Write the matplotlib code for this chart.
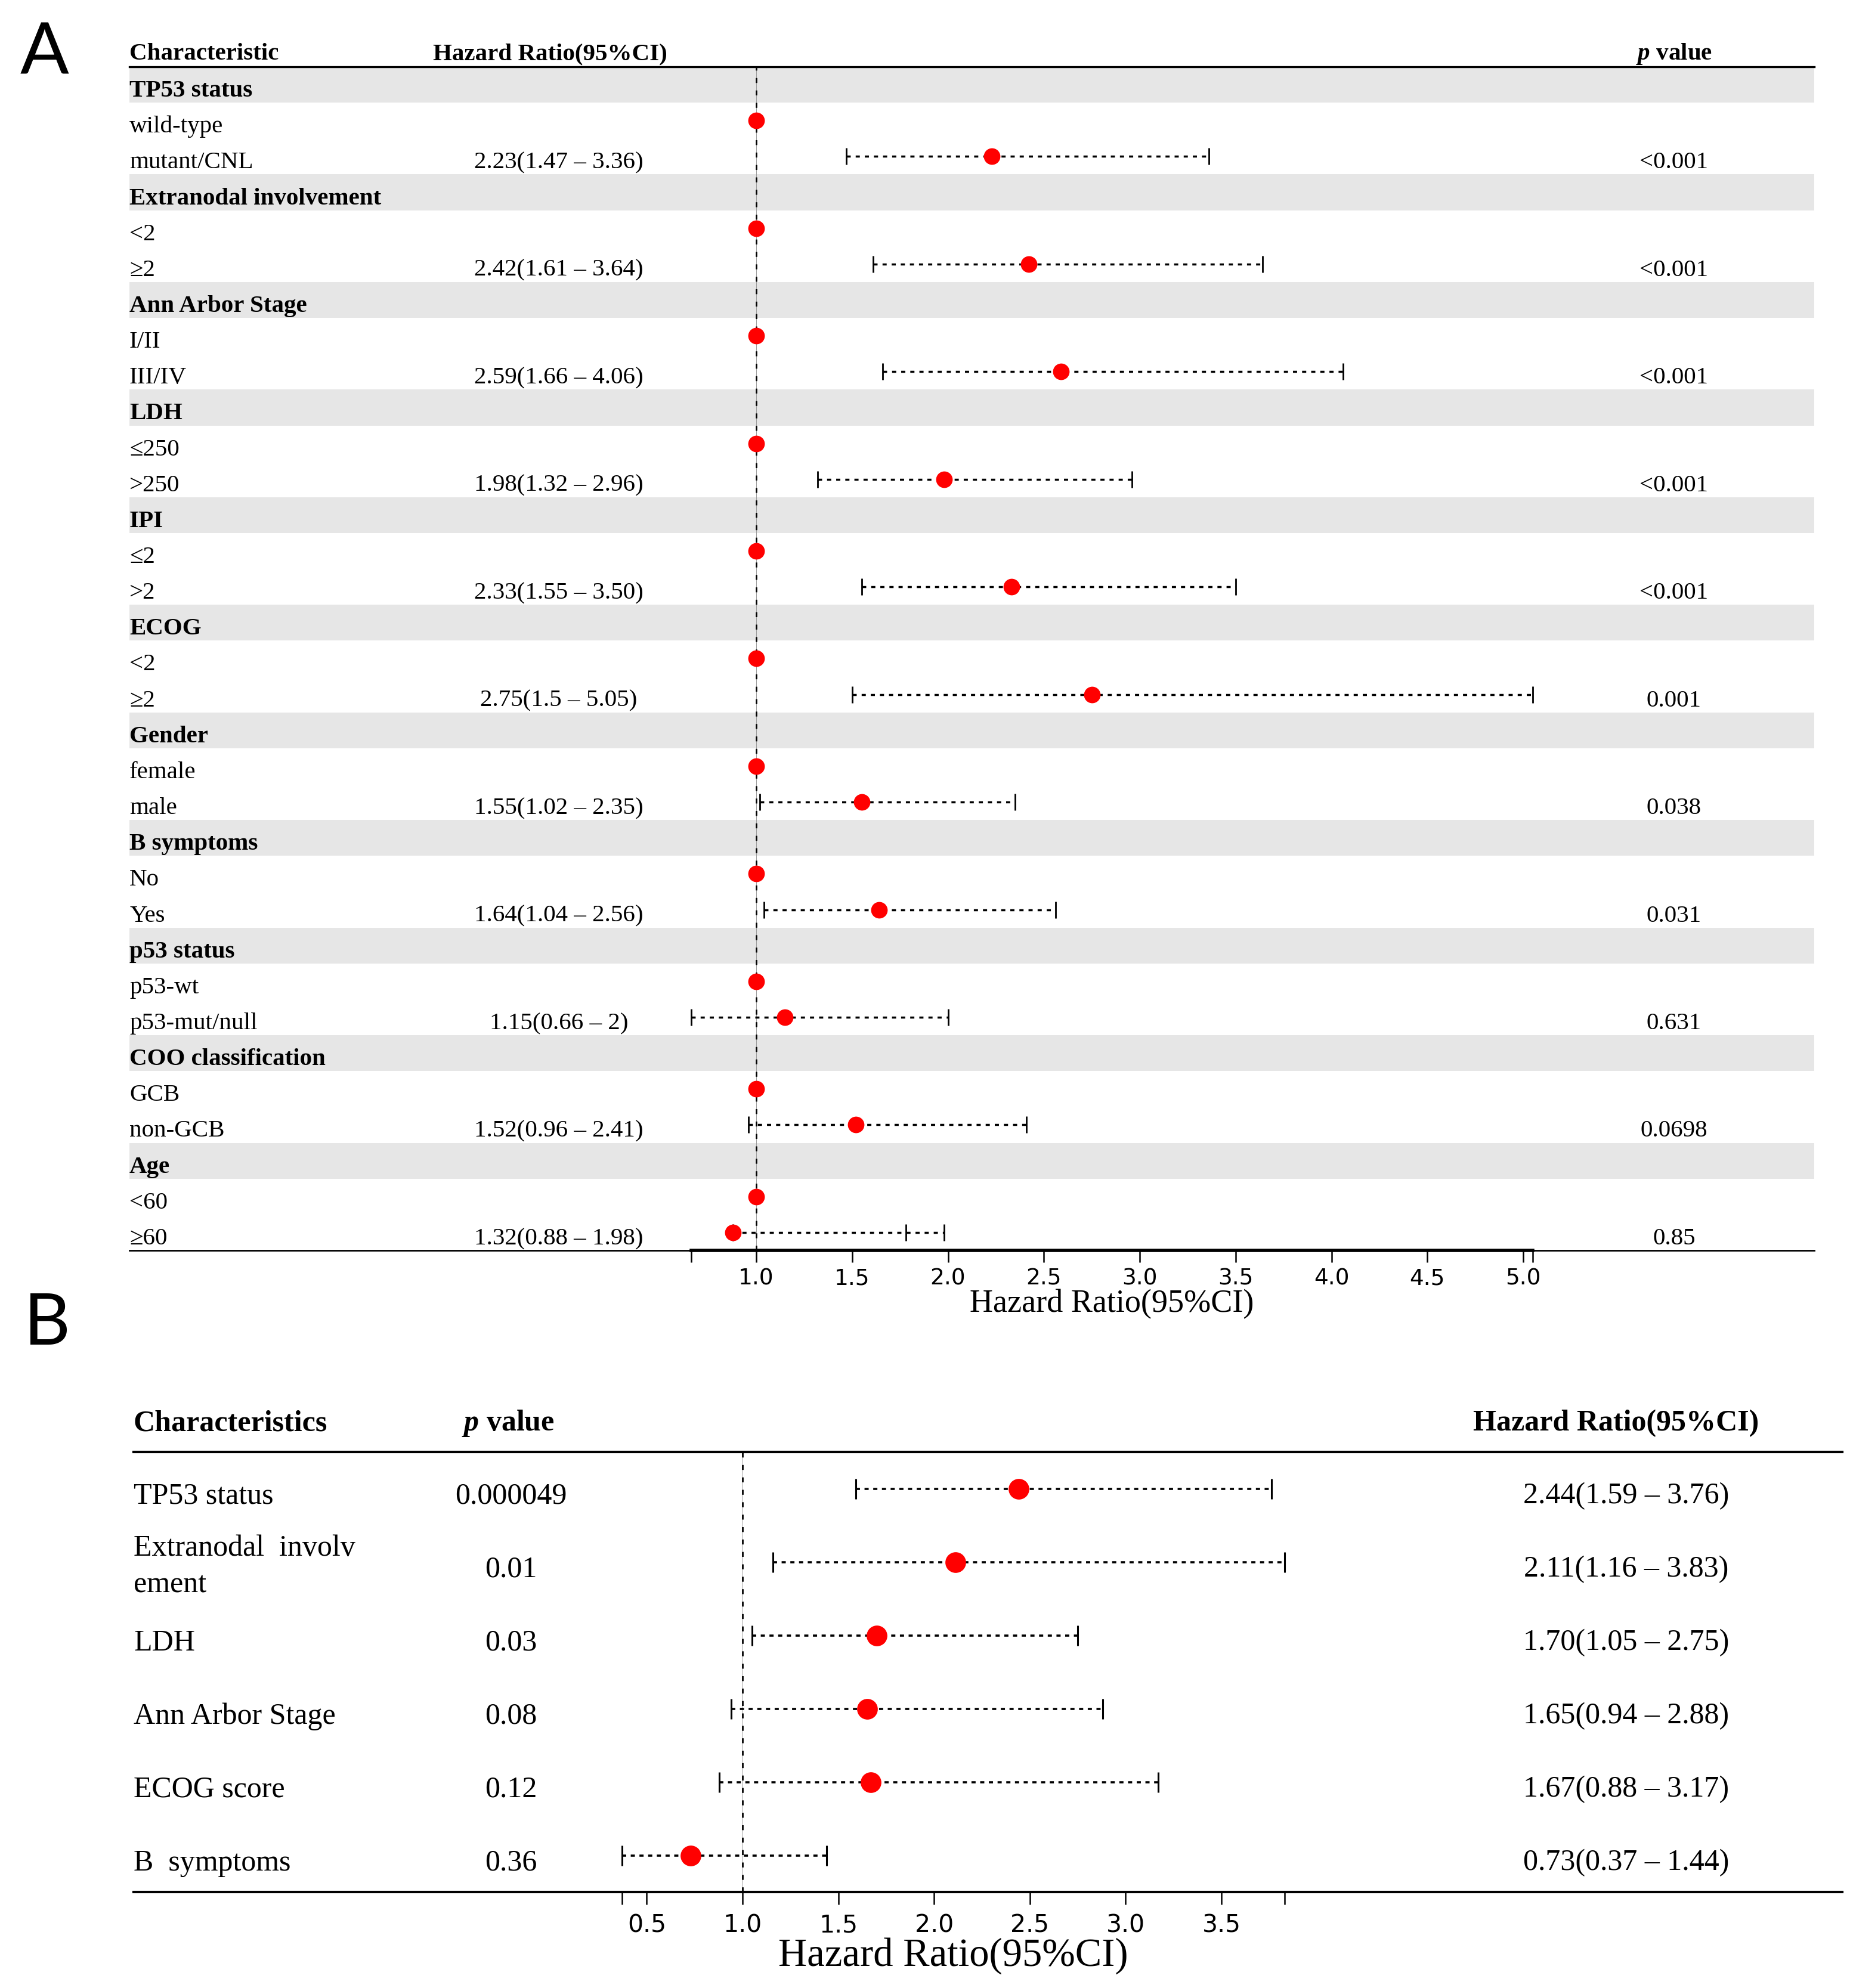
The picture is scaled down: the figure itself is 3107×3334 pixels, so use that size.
import matplotlib
matplotlib.use("Agg")
import matplotlib.pyplot as plt
import matplotlib.transforms as mtransforms
import numpy as np

plt.rcParams['font.family'] = ['Liberation Serif', 'DejaVu Sans']
plt.rcParams['mathtext.fontset'] = 'custom'
plt.rcParams['mathtext.it'] = 'Liberation Serif:italic:bold'
plt.rcParams['mathtext.rm'] = 'Liberation Serif:bold'
plt.rcParams['lines.scale_dashes'] = False

# ---- panel A data (univariate) ----
groups_a = ["TP53 status", "Extranodal involvement", "Ann Arbor Stage", "LDH", "IPI",
            "ECOG", "Gender", "B symptoms", "p53 status", "COO classification", "Age"]
ref_levels_a = ["wild-type", "<2", "I/II", "≤250", "≤2", "<2", "female", "No",
                "p53-wt", "GCB", "<60"]
cmp_levels_a = ["mutant/CNL", "≥2", "III/IV", ">250", ">2", "≥2", "male", "Yes",
                "p53-mut/null", "non-GCB", "≥60"]
hr_text_a = ["2.23(1.47 – 3.36)", "2.42(1.61 – 3.64)", "2.59(1.66 – 4.06)",
             "1.98(1.32 – 2.96)", "2.33(1.55 – 3.50)", "2.75(1.5 – 5.05)",
             "1.55(1.02 – 2.35)", "1.64(1.04 – 2.56)", "1.15(0.66 – 2)",
             "1.52(0.96 – 2.41)", "1.32(0.88 – 1.98)"]
p_text_a = ["<0.001", "<0.001", "<0.001", "<0.001", "<0.001", "0.001",
            "0.038", "0.031", "0.631", "0.0698", "0.85"]
# positions of the marks as drawn in the figure (Age point is drawn at 0.88)
dot_a = [2.23, 2.42, 2.59, 1.98, 2.33, 2.75, 1.55, 1.64, 1.15, 1.52, 0.88]
lo_a = [1.47, 1.61, 1.66, 1.32, 1.55, 1.5, 1.02, 1.04, 0.66, 0.96, 0.88]
hi_a = [3.36, 3.64, 4.06, 2.96, 3.50, 5.05, 2.35, 2.56, 2.0, 2.41, 1.98]
extra_cap_group_a = ["Age"]
extra_cap_value_a = [1.78]
ticks_a = [1.0, 1.5, 2.0, 2.5, 3.0, 3.5, 4.0, 4.5, 5.0]

# ---- panel B data (multivariate) ----
labels_b = ["TP53 status", "Extranodal  involv\nement", "LDH", "Ann Arbor Stage",
            "ECOG score", "B  symptoms"]
p_text_b = ["0.000049", "0.01", "0.03", "0.08", "0.12", "0.36"]
hr_b = [2.44, 2.11, 1.70, 1.65, 1.67, 0.73]
lo_b = [1.59, 1.16, 1.05, 0.94, 0.88, 0.37]
hi_b = [3.76, 3.83, 2.75, 2.88, 3.17, 1.44]
hr_text_b = ["2.44(1.59 – 3.76)", "2.11(1.16 – 3.83)", "1.70(1.05 – 2.75)",
             "1.65(0.94 – 2.88)", "1.67(0.88 – 3.17)", "0.73(0.37 – 1.44)"]
ticks_b = [0.5, 1.0, 1.5, 2.0, 2.5, 3.0, 3.5]

W, H = 3107, 3334
fig = plt.figure(figsize=(W / 100, H / 100), dpi=100)
RED = '#ff0000'
BAND = '#e6e6e6'


def fx(px):
    return px / W


def fy(py):
    return 1 - py / H


def style_axis(ax, ticks, lo_all, hi_all, fs, pad, tlen):
    tk = [min(lo_all)] + ticks + [max(hi_all)]
    ax.set_xticks(tk)
    ax.set_xticklabels([''] + ['%.1f' % t for t in ticks] + [''])
    ax.set_yticks([])
    ax.tick_params(axis='x', direction='out', length=tlen, width=1.8, pad=pad,
                   labelsize=fs)
    for lab in ax.get_xticklabels():
        lab.set_fontfamily('DejaVu Sans')
    for s in ['left', 'right']:
        ax.spines[s].set_visible(False)


# ================= panel A =================
A_LEFT, A_RIGHT, A_TOP, A_BOT = 217, 3042, 112, 2097
A_REF, A_SCALE = 1268, 321.5
FS_A = 29.5
axA = fig.add_axes([fx(A_LEFT), fy(A_BOT), (A_RIGHT - A_LEFT) / W, (A_BOT - A_TOP) / H])
axA.set_xlim(1 + (A_LEFT - A_REF) / A_SCALE, 1 + (A_RIGHT - A_REF) / A_SCALE)
n_a = 3 * len(groups_a)
axA.set_ylim(n_a, 0)
row_a = (A_BOT - A_TOP) / n_a
off_a = 20 / row_a
trA = mtransforms.blended_transform_factory(axA.transAxes, axA.transData)
hr_col_a = (937 - A_LEFT) / (A_RIGHT - A_LEFT)
p_col_a = (2807 - A_LEFT) / (A_RIGHT - A_LEFT)

axA.axvline(1, color='#9a9a9a', lw=0.7, zorder=1)
axA.axvline(1, color='black', lw=1.8, ls=(0, (6, 9)), zorder=1)

for g, grp in enumerate(groups_a):
    r0 = 3 * g
    axA.axhspan(r0, r0 + 1, color=BAND, lw=0, zorder=0)
    axA.text(0.0, r0 + 0.5 + off_a, grp, transform=trA, fontsize=FS_A,
             fontweight='bold', va='baseline', ha='left')
    axA.text(0.0, r0 + 1.5 + off_a, ref_levels_a[g], transform=trA, fontsize=FS_A,
             va='baseline', ha='left')
    axA.text(0.0, r0 + 2.5 + off_a, cmp_levels_a[g], transform=trA, fontsize=FS_A,
             va='baseline', ha='left')
    axA.text(hr_col_a, r0 + 2.5 + off_a, hr_text_a[g], transform=trA, fontsize=FS_A,
             va='baseline', ha='center')
    axA.text(p_col_a, r0 + 2.5 + off_a, p_text_a[g], transform=trA, fontsize=FS_A,
             va='baseline', ha='center')
    y = r0 + 2.5
    axA.plot([lo_a[g], hi_a[g]], [y, y], color='black', lw=2.5, ls=(0, (5, 6)), zorder=2)
    caps = [lo_a[g], hi_a[g]]
    if grp in extra_cap_group_a:
        caps.append(extra_cap_value_a[extra_cap_group_a.index(grp)])
    axA.plot(caps, [y] * len(caps), ls='none', marker='|', ms=19.5, mew=2.0,
             color='black', zorder=2)
    axA.plot([1.0], [r0 + 1.5], 'o', color=RED, ms=20, mec='none', zorder=3)
    axA.plot([dot_a[g]], [y], 'o', color=RED, ms=20, mec='none', zorder=3)

style_axis(axA, ticks_a, lo_a, hi_a, 27, 7.0, 14.4)
axA.spines['top'].set_linewidth(2.4)
axA.spines['bottom'].set_linewidth(4.0)
axA.spines['bottom'].set_bounds(min(lo_a), max(hi_a))
axA.axhline(n_a, color='black', lw=2.0, zorder=1, clip_on=False)

fig.text(fx(A_LEFT), fy(100), "Characteristic", fontsize=FS_A, fontweight='bold',
         ha='left', va='baseline')
fig.text(fx(922), fy(100), "Hazard Ratio(95%CI)", fontsize=FS_A, fontweight='bold',
         ha='center', va='baseline')
fig.text(fx(2807), fy(100), r"$p$ value", fontsize=FS_A, fontweight='bold',
         ha='center', va='baseline')
fig.text(fx(1864), fy(2187), "Hazard Ratio(95%CI)", fontsize=39, ha='center', va='center')
fig.text(fx(34), fy(125), "A", fontsize=87, family='Lato', ha='left', va='baseline')

# ================= panel B =================
B_LEFT, B_RIGHT, B_TOP, B_BOT = 224, 3089, 2435, 3173
B_REF, B_SCALE = 1245, 321.2
FS_B = 36
axB = fig.add_axes([fx(B_LEFT), fy(B_BOT), (B_RIGHT - B_LEFT) / W, (B_BOT - B_TOP) / H])
axB.set_xlim(1 + (B_LEFT - B_REF) / B_SCALE, 1 + (B_RIGHT - B_REF) / B_SCALE)
n_b = len(labels_b)
axB.set_ylim(n_b, 0)
row_b = (B_BOT - B_TOP) / n_b
off_b = 25 / row_b
trB = mtransforms.blended_transform_factory(axB.transAxes, axB.transData)
p_col_b = (857 - B_LEFT) / (B_RIGHT - B_LEFT)
hr_col_b = (2727 - B_LEFT) / (B_RIGHT - B_LEFT)

axB.axvline(1, color='#9a9a9a', lw=0.7, zorder=1)
axB.axvline(1, color='black', lw=2.0, ls=(0, (6, 9)), zorder=1)

for i, lab in enumerate(labels_b):
    y = i + 0.5
    lines = lab.split('\n')
    if len(lines) == 1:
        axB.text(0.0, y + off_b, lab, transform=trB, fontsize=FS_B, va='baseline', ha='left')
    else:
        for j, ln in enumerate(lines):
            axB.text(0.0, y + (-11 + 62 * j) / row_b, ln, transform=trB, fontsize=FS_B,
                     va='baseline', ha='left')
    axB.text(p_col_b, y + off_b, p_text_b[i], transform=trB, fontsize=FS_B,
             va='baseline', ha='center')
    axB.text(hr_col_b, y + off_b, hr_text_b[i], transform=trB, fontsize=FS_B,
             va='baseline', ha='center')
    axB.plot([lo_b[i], hi_b[i]], [y, y], color='black', lw=2.6, ls=(0, (5, 5.5)), zorder=2)
    axB.plot([lo_b[i], hi_b[i]], [y, y], ls='none', marker='|', ms=25, mew=2.2,
             color='black', zorder=2)
    axB.plot([hr_b[i]], [y], 'o', color=RED, ms=25, mec='none', zorder=3)

style_axis(axB, ticks_b, lo_b, hi_b, 29.5, 11.5, 15)
axB.spines['top'].set_linewidth(3.0)
axB.spines['bottom'].set_linewidth(3.0)

fig.text(fx(B_LEFT), fy(2399), "Characteristics", fontsize=FS_B, fontweight='bold',
         ha='left', va='baseline')
fig.text(fx(852), fy(2399), r"$p$ value", fontsize=FS_B, fontweight='bold',
         ha='center', va='baseline')
fig.text(fx(2710), fy(2399), "Hazard Ratio(95%CI)", fontsize=FS_B, fontweight='bold',
         ha='center', va='baseline')
fig.text(fx(1598), fy(3280), "Hazard Ratio(95%CI)", fontsize=48, ha='center', va='center')
fig.text(fx(40), fy(2255), "B", fontsize=87, family='Lato', ha='left', va='baseline')

fig.savefig("out.png", dpi=100, facecolor='white')
